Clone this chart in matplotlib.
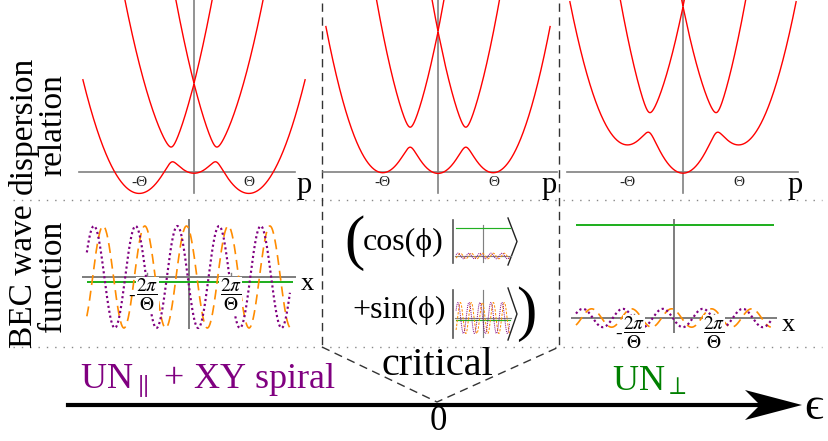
import numpy as np
import matplotlib.pyplot as plt

plt.rcParams['font.family'] = ['Liberation Serif', 'DejaVu Serif']
plt.rcParams['mathtext.fontset'] = 'stix'

W, H = 829, 441

# dispersion panels (p in units of Theta, energies in arbitrary units)
curvature = [109, 140, 137]
outer_shift = [21, 0, -28]
coupling = [7.5, 10, 10]
p_max = 2.02

# wave function panels (x in units of 2pi/Theta)
wave_amp = [1.0, 0.18]
green_level = [-0.1, 1.83]
purple_phase = 0.28
orange_phase = 0.06
x_wave = (-2.45, 2.42)

tick_text = r'$\dfrac{2\pi}{\Theta}$'

# layout: (box x0, y0, x1, y1, origin cx, cy, px per x unit, px per y unit)
disp_layout = [(60, 0, 320, 200, 194, 172, 55.0, 1.0),
               (322, 0, 560, 200, 438, 172, 55.5, 1.0),
               (562, 0, 829, 200, 683, 172, 56.0, 1.0)]
disp_axis_x = [(-2.09, 1.84), (-2.07, 2.14), (-2.07, 2.05)]
wave_layout = [(70, 205, 320, 345, 189, 277, 41.7, 51.0),
               (562, 205, 829, 345, 674, 318, 40.0, 51.0)]
wave_vaxis = [(-1.0, 1.12), (-0.27, 1.92)]
inset_layout = [(450, 215, 515, 268, 483, 256, 11.0, 15.5),
                (450, 285, 515, 342, 483, 318, 11.0, 15.5)]
inset_vaxis = [(-0.4, 2.0), (-1.2, 1.8)]

AXC = '#808080'
PURPLE = '#800080'
ORANGE = '#ff8c00'
GREEN = '#22b022'

fig = plt.figure(figsize=(W / 100, H / 100), dpi=100)

ax0 = fig.add_axes([0, 0, 1, 1])
ax0.set_xlim(0, W)
ax0.set_ylim(H, 0)
ax0.axis('off')


def px_axes(x0, y0, x1, y1, cx, cy, sx, sy):
    ax = fig.add_axes([x0 / W, 1 - y1 / H, (x1 - x0) / W, (y1 - y0) / H])
    ax.set_xlim((x0 - cx) / sx, (x1 - cx) / sx)
    ax.set_ylim((cy - y1) / sy, (cy - y0) / sy)
    ax.axis('off')
    return ax


def bands(p, a, d, om):
    h = np.zeros((len(p), 3, 3))
    h[:, 0, 0] = a * (p + 1) ** 2 - d
    h[:, 1, 1] = a * p ** 2
    h[:, 2, 2] = a * (p - 1) ** 2 - d
    h[:, 0, 1] = h[:, 1, 0] = om
    h[:, 1, 2] = h[:, 2, 1] = om
    return np.linalg.eigvalsh(h)


p = np.linspace(-p_max, p_max, 801)
for i in range(3):
    ax = px_axes(*disp_layout[i])
    ax.plot(disp_axis_x[i], [0, 0], color=AXC, lw=1.2)
    ax.plot([0, 0], [-21, 172], color=AXC, lw=1.2)
    e = bands(p, curvature[i], outer_shift[i], coupling[i])
    for k in range(3):
        ax.plot(p, e[:, k], color='red', lw=1.0)
    ax.text(-1, -10, '-Θ', ha='center', va='center', fontsize=11, color='#222222')
    ax.text(1, -10, 'Θ', ha='center', va='center', fontsize=11, color='#222222')
    ax.text(2.0, -13, 'p', ha='center', va='center', fontsize=22)


def draw_wave(ax, j, vaxis, lw, small=False):
    x = np.linspace(x_wave[0], x_wave[1], 600)
    ax.plot([-2.55, 2.55], [0, 0], color=AXC, lw=lw * 1.2, clip_on=False)
    ax.plot([0, 0], vaxis, color=AXC, lw=lw * 1.2, clip_on=False)
    ax.plot([-2.42, 2.48], [green_level[j], green_level[j]], color=GREEN, lw=lw * 1.2, clip_on=False)
    if small:
        ax.plot(x, wave_amp[j] * np.cos(2 * np.pi * (x + orange_phase)), color=ORANGE,
                lw=lw, ls=(0, (2.5, 1.5)), clip_on=False)
        ax.plot(x, wave_amp[j] * np.cos(2 * np.pi * (x + purple_phase)), color=PURPLE,
                lw=lw, ls=(0, (1, 1)), clip_on=False)
    else:
        ax.plot(x, wave_amp[j] * np.cos(2 * np.pi * (x + orange_phase)), color=ORANGE,
                lw=lw, ls=(0, (6, 3.5)), clip_on=False)
        ax.plot(x, wave_amp[j] * np.cos(2 * np.pi * (x + purple_phase)), color=PURPLE,
                lw=lw * 1.3, ls=(0, (1, 1.3)), clip_on=False)


label_y = [-0.36, -0.3]
for j in range(2):
    ax = px_axes(*wave_layout[j])
    draw_wave(ax, j, wave_vaxis[j], 1.2)
    for s in (-1, 1):
        ax.plot([s, s], [0, 0.08], color=AXC, lw=1.0)
        ax.text(s, label_y[j], tick_text, ha='center', va='center', fontsize=14, zorder=5,
                bbox=dict(facecolor='white', edgecolor='none', pad=0.3))
    ax.text(-1.38, label_y[j] - 0.02, '-', ha='center', va='center', fontsize=14, zorder=5)
    ax.text(2.85, -0.13, 'x', ha='center', va='center', fontsize=19)

# insets inside the kets: cos -> UN_perp, sin -> spiral
inset_src = [1, 0]
for j in range(2):
    ax = px_axes(*inset_layout[j])
    draw_wave(ax, inset_src[j], inset_vaxis[j], 0.7, small=True)

# row labels
ax0.text(38, 125, 'dispersion\nrelation', rotation=90, ha='center', va='center',
         fontsize=24, linespacing=0.95, multialignment='center')
ax0.text(38, 276, 'BEC wave\nfunction', rotation=90, ha='center', va='center',
         fontsize=24, linespacing=0.95, multialignment='center')

# separators
for yy in (200, 347):
    ax0.plot([13, 822], [yy, yy], color='#888888', lw=1.0, ls=(0, (1, 5)))
for xx in (322, 559):
    ax0.plot([xx, xx], [3, 347], color='#333333', lw=1.0, ls=(0, (6, 4)))
ax0.plot([322, 437, 559], [347, 402, 347], color='#333333', lw=1.0, ls=(0, (6, 4)))

# critical superposition
ax0.text(355, 243, '(', ha='center', va='center', fontsize=44)
ax0.text(526, 314, ')', ha='center', va='center', fontsize=44)
ax0.text(363, 242, 'cos(ϕ)', ha='left', va='center', fontsize=23)
ax0.text(352, 310, '+sin(ϕ)', ha='left', va='center', fontsize=23)
for (y0, y1) in ((220, 263), (290, 338)):
    ax0.plot([453, 453], [y0, y1], color='#555555', lw=1.2)
    ym = (y0 + y1) / 2
    ax0.plot([508, 517, 508], [y0 - 2, ym, y1 + 2], color='#222222', lw=1.0)

# phase axis
ax0.plot([68, 770], [405, 405], color='black', lw=3)
ax0.fill([802, 745, 760, 745], [405, 390, 405, 420], color='black', lw=0)
ax0.text(804, 408, 'ϵ', ha='left', va='center', fontsize=34)
ax0.text(438, 430, '0', ha='center', va='baseline', fontsize=25)
ax0.text(437, 375, 'critical', ha='center', va='baseline', fontsize=29)
ax0.text(80, 388, r'UN$_{\parallel}$ + XY spiral', ha='left', va='baseline',
         fontsize=26, color=PURPLE)
ax0.text(612, 390, r'UN$_{\perp}$', ha='left', va='baseline', fontsize=26, color='green')

fig.savefig('out.png', dpi=100)
